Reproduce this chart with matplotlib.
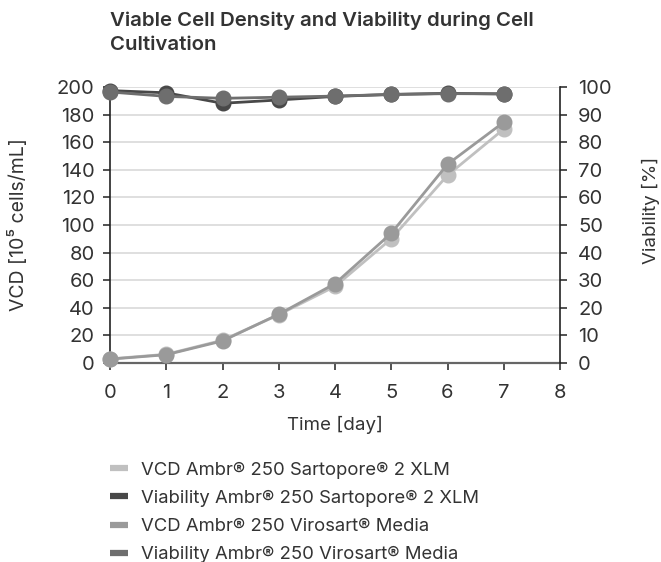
import matplotlib
matplotlib.use("Agg")
import matplotlib.pyplot as plt
from matplotlib.lines import Line2D

plt.rcParams['font.family'] = ['Inter', 'DejaVu Sans']

days = [0, 1, 2, 3, 4, 5, 6, 7]
vcd_sartopore = [3.0, 6.3, 16.5, 35.0, 55.5, 90.0, 136.0, 169.5]
via_sartopore = [98.7, 97.9, 94.1, 95.3, 96.6, 97.3, 97.7, 97.5]
vcd_virosart = [2.8, 6.0, 16.0, 35.3, 57.5, 94.0, 144.0, 174.5]
via_virosart = [98.2, 96.6, 95.9, 96.3, 96.7, 97.3, 97.6, 97.5]

labels = ["VCD Ambr® 250 Sartopore® 2 XLM",
          "Viability Ambr® 250 Sartopore® 2 XLM",
          "VCD Ambr® 250 Virosart® Media",
          "Viability Ambr® 250 Virosart® Media"]
colors = ["#c0c0c0", "#484848", "#9a9a9a", "#6e6e6e"]

title = "Viable Cell Density and Viability during Cell\nCultivation"
xlabel = "Time [day]"
ylabel_left = "VCD [10⁵ cells/mL]"
ylabel_right = "Viability [%]"

fig = plt.figure(figsize=(6.61, 5.62), dpi=100)
ax = fig.add_axes([110/661, 1-363/562, 450/661, 276/562])
ax2 = ax.twinx()

ax.set_xlim(0, 8)
ax.set_ylim(0, 200)
ax2.set_ylim(0, 100)
ax.set_yticks(range(0, 201, 20))
ax2.set_yticks(range(0, 101, 10))
ax.set_xticks(range(0, 9))
ax.grid(axis='y', color='#d9d9d9', linewidth=1.2)
ax.set_axisbelow(True)

mk = dict(marker='o', markersize=10.5, linewidth=2.0, clip_on=False)
ax.plot(days, vcd_sartopore, color=colors[0], zorder=3, **mk)
ax.plot(days, vcd_virosart, color=colors[2], zorder=4, **mk)
ax2.plot(days, via_sartopore, color=colors[1], zorder=3, **mk)
ax2.plot(days, via_virosart, color=colors[3], zorder=4, **mk)

fs = 14.5
for a in (ax, ax2):
    a.spines['top'].set_visible(False)
    a.tick_params(labelsize=fs, colors='#333333', length=5, width=1.2, direction='out', pad=6)
ax.spines['left'].set_color('#222222')
ax.spines['left'].set_linewidth(1.2)
ax.spines['bottom'].set_color('#666666')
ax.spines['bottom'].set_linewidth(1.6)
ax.spines['right'].set_visible(False)
ax2.spines['left'].set_visible(False)
ax2.spines['bottom'].set_visible(False)
ax2.spines['right'].set_color('#222222')
ax2.spines['right'].set_linewidth(1.2)
ax.tick_params(axis='x', pad=10)
ax2.tick_params(axis='y', pad=8)

ax.set_xlabel(xlabel, fontsize=13.5, color='#333333', labelpad=10)
fig.text(18/661, 1-225/562, ylabel_left, rotation=90, ha='center', va='center', fontsize=14, color='#333333')
fig.text(651/661, 1-210/562, ylabel_right, rotation=90, ha='center', va='center', fontsize=13.5, color='#333333')

fig.text(110/661, 1-11/562, title, ha='left', va='top', fontsize=14.7, fontweight='semibold', color='#333333', linespacing=1.5)

handles = [Line2D([0], [0], color=c, linewidth=4.5, solid_capstyle='butt') for c in colors]
fig.legend(handles, labels, loc='upper left', bbox_to_anchor=(93/661, 1-445/562), frameon=False,
           fontsize=13.3, handlelength=1.0, handletextpad=0.7, labelspacing=0.6,
           labelcolor='#333333')

fig.savefig("out.png", dpi=100)
